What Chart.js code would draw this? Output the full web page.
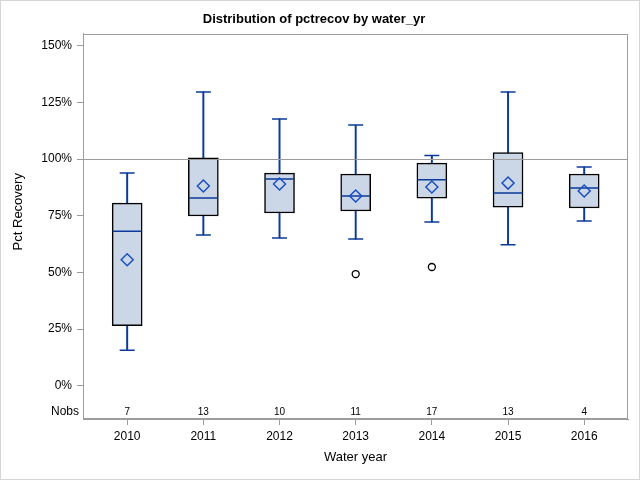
<!DOCTYPE html>
<html>
<head>
<meta charset="utf-8">
<script src="https://cdn.jsdelivr.net/npm/chart.js@4.4.1/dist/chart.umd.min.js"></script>
<style>
  html, body { margin: 0; padding: 0; background: #fff; }
</style>
</head>
<body>
<canvas id="boxChart" width="640" height="480"></canvas>
<script>
// box plot stats (percent recovery)
const years = [2010, 2011, 2012, 2013, 2014, 2015, 2016];
const nobs = [7, 13, 10, 11, 17, 13, 4];
const q1 = [26.5, 74.9, 76.2, 77.1, 82.8, 78.8, 78.4];
const q3 = [80.6, 100.5, 93.8, 93.4, 98.2, 102.8, 93.4];
const medians = [68.2, 82.8, 91.2, 83.7, 90.9, 85.0, 87.2];
const means = [55.6, 88.1, 89.0, 83.7, 87.7, 89.4, 85.9];
const whiskerLow = [15.7, 66.5, 65.2, 64.7, 72.2, 62.2, 72.7];
const whiskerHigh = [93.8, 129.6, 117.7, 115.0, 101.6, 129.6, 96.5];
const outlierYears = [2013, 2014];
const outlierValues = [49.3, 52.4];
const yTicks = [0, 25, 50, 75, 100, 125, 150];
const refValue = 100;

const BLUE = '#0b3a9a';
const FONT = '"Liberation Sans", Arial, sans-serif';
const AXIS = '#9c9c9c';

const extras = {
  id: 'extras',
  beforeDraw(chart) {
    const c = chart.ctx;
    c.save();
    c.fillStyle = '#fff';
    c.fillRect(0, 0, chart.width, chart.height);
    c.strokeStyle = '#d4d4d4';
    c.lineWidth = 1;
    c.strokeRect(0.5, 0.5, chart.width - 1, chart.height - 1);
    c.restore();
  },
  afterDatasetsDraw(chart) {
    const c = chart.ctx, a = chart.chartArea;
    const x = chart.scales.x, y = chart.scales.y;
    c.save();
    // reference line sits on top of the boxes
    const ry = Math.round(y.getPixelForValue(refValue)) + 0.5;
    c.strokeStyle = AXIS;
    c.lineWidth = 1;
    c.beginPath();
    c.moveTo(a.left, ry);
    c.lineTo(a.right, ry);
    c.stroke();
    // frame
    c.strokeRect(Math.round(a.left) + 0.5, Math.round(a.top) + 0.5,
      Math.round(a.right - a.left) - 1, Math.round(a.bottom - a.top) - 1);
    // Nobs row
    c.fillStyle = '#000';
    c.textBaseline = 'middle';
    c.textAlign = 'center';
    c.font = '10px ' + FONT;
    const ny = a.bottom - 7;
    years.forEach((yr, i) => c.fillText(String(nobs[i]), x.getPixelForValue(yr), ny));
    c.textAlign = 'right';
    c.font = '12px ' + FONT;
    c.fillText('Nobs', a.left - 4, ny);
    // y axis title
    c.translate(18, (y.getPixelForValue(0) + y.getPixelForValue(150)) / 2 - 4);
    c.rotate(-Math.PI / 2);
    c.textAlign = 'center';
    c.font = '13px ' + FONT;
    c.fillText('Pct Recovery', 0, 0);
    c.restore();
  }
};

new Chart(document.getElementById('boxChart'), {
  type: 'bar',
  data: {
    datasets: [
      {
        label: 'whisker',
        data: years.map((yr, i) => ({ x: yr, y: [whiskerLow[i], whiskerHigh[i]] })),
        backgroundColor: BLUE,
        borderWidth: 0,
        barThickness: 1.3,
        grouped: false,
        order: 6
      },
      {
        label: 'box',
        data: years.map((yr, i) => ({ x: yr, y: [q1[i], q3[i]] })),
        backgroundColor: '#cbd6e6',
        borderColor: '#000',
        borderWidth: 1.5,
        borderSkipped: false,
        barThickness: 30,
        grouped: false,
        order: 5
      },
      {
        type: 'scatter',
        label: 'caps',
        data: years.flatMap((yr, i) => [{ x: yr, y: whiskerLow[i] }, { x: yr, y: whiskerHigh[i] }]),
        pointStyle: 'line',
        pointRadius: 7.5,
        borderColor: BLUE,
        borderWidth: 1.5,
        order: 4
      },
      {
        type: 'scatter',
        label: 'median',
        data: years.map((yr, i) => ({ x: yr, y: medians[i] })),
        pointStyle: 'line',
        pointRadius: 14.5,
        borderColor: BLUE,
        borderWidth: 1.5,
        order: 3
      },
      {
        type: 'scatter',
        label: 'mean',
        data: years.map((yr, i) => ({ x: yr, y: means[i] })),
        pointStyle: 'rectRot',
        pointRadius: 6,
        backgroundColor: 'rgba(0,0,0,0)',
        borderColor: '#1a4fc4',
        borderWidth: 1.5,
        order: 2
      },
      {
        type: 'scatter',
        label: 'outlier',
        data: outlierYears.map((yr, i) => ({ x: yr, y: outlierValues[i] })),
        pointStyle: 'circle',
        pointRadius: 3.5,
        backgroundColor: '#fff',
        borderColor: '#000',
        borderWidth: 1.3,
        order: 1
      }
    ]
  },
  options: {
    responsive: false,
    animation: false,
    layout: { autoPadding: false, padding: { left: 0, right: 12, top: 0, bottom: 0 } },
    plugins: {
      legend: { display: false },
      tooltip: { enabled: false },
      title: {
        display: true,
        text: 'Distribution of pctrecov by water_yr',
        color: '#000',
        font: { family: FONT, size: 13, weight: 'bold' },
        padding: { top: 12, bottom: 6 }
      }
    },
    scales: {
      x: {
        type: 'linear',
        offset: false,
        min: 2009.42,
        max: 2016.575,
        afterBuildTicks: s => { s.ticks = years.map(v => ({ value: v })); },
        afterFit: s => { s.height = 61; s.paddingLeft = 0; s.paddingRight = 0; },
        grid: { offset: false, drawOnChartArea: false, drawTicks: true, tickLength: 6, color: AXIS },
        border: { display: true, color: AXIS },
        ticks: {
          callback: v => String(v),
          color: '#000',
          padding: 4,
          maxRotation: 0,
          font: { family: FONT, size: 12 }
        },
        title: {
          display: true,
          text: 'Water year',
          color: '#000',
          font: { family: FONT, size: 13 },
          padding: { top: 4, bottom: 15 }
        }
      },
      y: {
        type: 'linear',
        min: -14.6,
        max: 155.3,
        afterBuildTicks: s => { s.ticks = yTicks.map(v => ({ value: v })); },
        afterFit: s => { s.width = 83; s.paddingTop = 0; s.paddingBottom = 0; },
        grid: { drawOnChartArea: false, drawTicks: true, tickLength: 6, color: AXIS },
        border: { display: true, color: AXIS },
        ticks: {
          callback: v => v + '%',
          color: '#000',
          padding: 5,
          font: { family: FONT, size: 12 }
        }
      }
    }
  },
  plugins: [extras]
});
</script>
</body>
</html>
